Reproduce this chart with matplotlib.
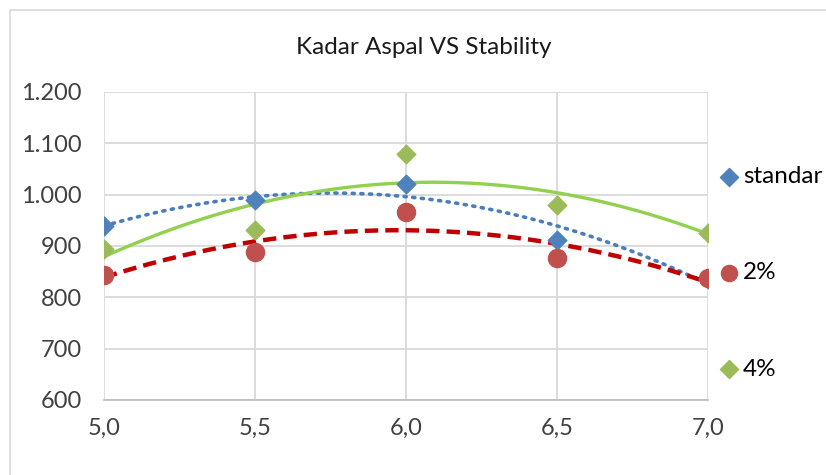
#------------------------------------------------------------------------------
# IMPORTS
#------------------------------------------------------------------------------
import numpy as np
from matplotlib import pyplot as plt
from matplotlib.patches import Rectangle
from matplotlib.ticker import FuncFormatter

#------------------------------------------------------------------------------
# DATA
#------------------------------------------------------------------------------
kadar_aspal = [5.0, 5.5, 6.0, 6.5, 7.0]
stab_standar = [938, 990, 1021, 912, 835]
stab_2 = [843, 889, 966, 877, 837]
stab_4 = [895, 931, 1079, 980, 926]

x_ticks = [5.0, 5.5, 6.0, 6.5, 7.0]
y_ticks = [600, 700, 800, 900, 1000, 1100, 1200]

#------------------------------------------------------------------------------
# FUNCTIONS
#------------------------------------------------------------------------------
def trend(ax, x, y, **kw):
    """ Second order polynomial trendline like Excel. """
    coef = np.polyfit(x, y, 2)
    xs = np.linspace(min(x), max(x), 200)
    ax.plot(xs, np.polyval(coef, xs), zorder=2, **kw)


def thousands(v, pos):
    return f"{int(v):,}".replace(",", ".")


def decimal_comma(v, pos):
    return f"{v:.1f}".replace(".", ",")

#------------------------------------------------------------------------------
# MAIN
#------------------------------------------------------------------------------
def main():
    plt.rcParams['font.family'] = ['Lato', 'DejaVu Sans']

    W, H = 826, 475
    fig = plt.figure(figsize=(W/100, H/100), dpi=100)
    fig.patches.append(Rectangle((10/W, -0.1), 1.0, (465/H) + 0.1,
                                 transform=fig.transFigure, fill=False,
                                 edgecolor="#d9d9d9", linewidth=1.2))

    ax = fig.add_axes([104/W, 75/H, 604/W, 308/H])

    blue, red, green = "#4f81bd", "#c0504d", "#9bbb59"

    ax.scatter(kadar_aspal, stab_standar, marker="D", s=90, color=blue,
               zorder=3, label="standar")
    ax.scatter(kadar_aspal, stab_2, marker="o", s=170, color=red,
               zorder=4, label="2%")
    ax.scatter(kadar_aspal, stab_4, marker="D", s=90, color=green,
               zorder=3, label="4%")

    trend(ax, kadar_aspal, stab_standar, color="#4a7ebb", lw=2.6,
          linestyle=(0, (0.6, 1.8)), dash_capstyle="round")
    trend(ax, kadar_aspal, stab_2, color="#c00000", lw=3.2,
          linestyle=(0, (3.0, 1.6)))
    trend(ax, kadar_aspal, stab_4, color="#92d050", lw=2.4)

    ax.set_xlim(5.0, 7.0)
    ax.set_ylim(600, 1200)
    ax.set_xticks(x_ticks)
    ax.set_yticks(y_ticks)
    ax.xaxis.set_major_formatter(FuncFormatter(decimal_comma))
    ax.yaxis.set_major_formatter(FuncFormatter(thousands))
    ax.tick_params(length=0, labelsize=17, labelcolor="#404040")
    ax.tick_params(axis="x", pad=13)
    ax.tick_params(axis="y", pad=16)

    ax.grid(True, color="#d9d9d9", linewidth=1.3)
    ax.set_axisbelow(True)
    for side in ["top", "right", "left"]:
        ax.spines[side].set_visible(False)
    ax.spines["bottom"].set_color("#bfbfbf")
    ax.spines["bottom"].set_linewidth(1.3)

    fig.text(424/W, 1 - 47/H, "Kadar Aspal VS Stability",
             ha="center", va="center", fontsize=17.5, color="#1a1a1a")

    leg = fig.legend(handles=ax.collections, loc="upper left",
                     bbox_to_anchor=(720/W, 1 - 166/H),
                     frameon=False, fontsize=17.5, handlelength=0.7,
                     handletextpad=0.25, labelspacing=3.1,
                     borderpad=0, borderaxespad=0)
    for h, sz in zip(leg.legend_handles, [85, 135, 85]):
        h.set_sizes([sz])
    for t in leg.get_texts():
        t.set_color("#000000")

    fig.savefig("out.png", dpi=100)

#------------------------------------------------------------------------------
if __name__ == '__main__':
    main()
